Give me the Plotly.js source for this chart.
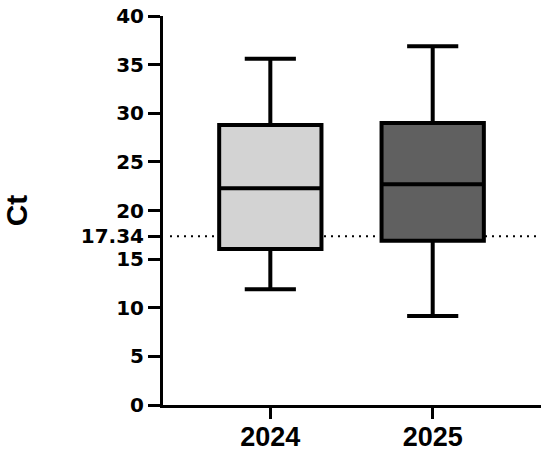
<!DOCTYPE html>
<html>
<head>
<meta charset="utf-8">
<script src="https://cdn.plot.ly/plotly-3.0.1.min.js"></script>
<style>html,body{margin:0;padding:0;background:#fff;}#chart{width:550px;height:453px;}</style>
</head>
<body>
<div id="chart"></div>
<script>
const categories = ['2024', '2025'];
const lowerWhisker = [11.9, 9.15];
const q1 = [16.05, 16.9];
const median = [22.3, 22.7];
const q3 = [28.8, 29.0];
const upperWhisker = [35.6, 36.9];
const fillColors = ['#d3d3d3', '#606060'];
const cutoff = 17.34;
const yTickVals = [0, 5, 10, 15, 20, 25, 30, 35, 40, cutoff];
const yTickText = ['0', '5', '10', '15', '20', '25', '30', '35', '40', '17.34'];

const traces = categories.map((c, i) => ({
  type: 'box',
  x: [c],
  lowerfence: [lowerWhisker[i]],
  q1: [q1[i]],
  median: [median[i]],
  q3: [q3[i]],
  upperfence: [upperWhisker[i]],
  fillcolor: fillColors[i],
  line: {color: '#000', width: 4},
  whiskerwidth: 0.5,
  width: 0.63,
  boxpoints: false,
  hoverinfo: 'skip',
  showlegend: false
}));

const layout = {
  width: 550, height: 453,
  margin: {l: 163, r: 9, t: 16, b: 48},
  paper_bgcolor: '#fff', plot_bgcolor: '#fff',
  boxmode: 'overlay',
  showlegend: false,
  xaxis: {
    type: 'category',
    range: [-0.661, 1.667],
    showgrid: false, zeroline: false,
    showline: true, linecolor: '#000', linewidth: 3,
    ticks: 'outside', ticklen: 11, tickwidth: 3, tickcolor: '#000',
    ticklabelstandoff: -5,
    tickfont: {family: 'Liberation Sans, Arial, sans-serif', size: 27, color: '#000', weight: 'bold'}
  },
  yaxis: {
    range: [0, 40],
    showgrid: false, zeroline: false,
    showline: true, linecolor: '#000', linewidth: 3,
    ticks: 'outside', ticklen: 12, tickwidth: 3, tickcolor: '#000',
    tickmode: 'array', tickvals: yTickVals, ticktext: yTickText,
    tickfont: {family: 'DejaVu Sans, sans-serif', size: 20, color: '#000', weight: 'bold'},
    title: {text: 'Ct', standoff: 50, font: {family: 'Liberation Sans, Arial, sans-serif', size: 30, color: '#000', weight: 'bold'}}
  },
  shapes: [{
    type: 'line', layer: 'below',
    xref: 'paper', yref: 'y',
    x0: 0.0185, x1: 0.99, y0: cutoff, y1: cutoff,
    line: {color: '#000', width: 2, dash: '2px,5px'}
  }]
};

Plotly.newPlot('chart', traces, layout, {displayModeBar: false, staticPlot: true});
</script>
</body>
</html>
